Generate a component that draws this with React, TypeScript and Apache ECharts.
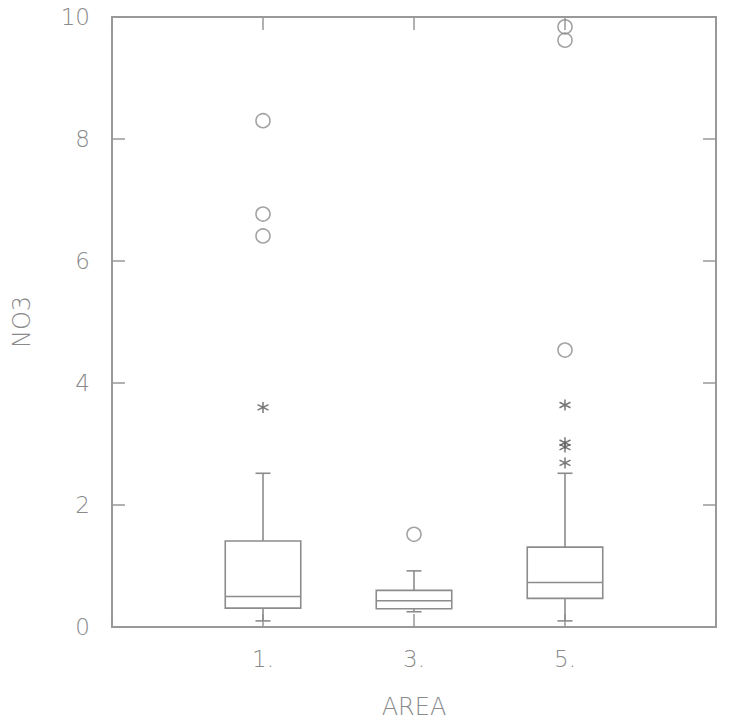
import React, { useEffect, useRef } from "react";
import * as echarts from "echarts";

// Sampling areas along the x axis
const categories = ["1.", "3.", "5."];

// Box statistics per area (NO3)
const lowWhisker = [0.1, 0.25, 0.1];
const q1 = [0.31, 0.3, 0.47];
const median = [0.5, 0.43, 0.73];
const q3 = [1.41, 0.6, 1.31];
const highWhisker = [2.52, 0.92, 2.52];

// Outliers: [area index, value]
const farOutliers: [number, number][] = [
  [0, 8.3],
  [0, 6.77],
  [0, 6.41],
  [1, 1.52],
  [2, 9.84],
  [2, 9.62],
  [2, 4.54],
];
const nearOutliers: [number, number][] = [
  [0, 3.6],
  [2, 3.64],
  [2, 3.02],
  [2, 2.95],
  [2, 2.69],
];

const yTicks = [0, 2, 4, 6, 8, 10];

const TEXT = "#8a8a8a";
const FRAME = "#999999";
const LINE = "#8c8c8c";
const FONT = "'DejaVu Sans', sans-serif";

const axisLine = () => ({ show: true, onZero: false, lineStyle: { color: FRAME, width: 2 } });
const tick = () => ({ show: true, inside: true, length: 13, lineStyle: { color: FRAME, width: 1.5 } });

export default function App() {
  const ref = useRef<HTMLDivElement>(null);

  useEffect(() => {
    if (!ref.current) return;
    const chart = echarts.init(ref.current, null, { renderer: "svg" });

    const boxData = categories.map((_, i) => [
      i + 1,
      lowWhisker[i],
      q1[i],
      median[i],
      q3[i],
      highWhisker[i],
    ]);

    chart.setOption({
      animation: false,
      backgroundColor: "#ffffff",
      grid: { left: 112, right: 35, top: 17, bottom: 100 },
      xAxis: [
        {
          type: "value",
          position: "bottom",
          min: 0,
          max: 4,
          interval: 1,
          name: "AREA",
          nameLocation: "middle",
          nameGap: 68,
          nameTextStyle: { color: TEXT, fontSize: 24, fontFamily: FONT, fontWeight: 200 },
          axisLine: axisLine(),
          axisTick: tick(),
          splitLine: { show: false },
          axisLabel: {
            color: TEXT,
            fontSize: 23,
            fontFamily: FONT,
            fontWeight: 200,
            margin: 20,
            formatter: (v: number) => categories[v - 1] ?? "",
          },
        },
        {
          type: "value",
          position: "top",
          min: 0,
          max: 4,
          interval: 1,
          axisLine: axisLine(),
          axisTick: tick(),
          splitLine: { show: false },
          axisLabel: { show: false },
        },
      ],
      yAxis: [
        {
          type: "value",
          position: "left",
          min: yTicks[0],
          max: yTicks[yTicks.length - 1],
          interval: 2,
          name: "NO3",
          nameLocation: "middle",
          nameGap: 78,
          nameTextStyle: { color: TEXT, fontSize: 24, fontFamily: FONT, fontWeight: 200 },
          axisLine: axisLine(),
          axisTick: tick(),
          splitLine: { show: false },
          axisLabel: {
            color: TEXT,
            fontSize: 23,
            fontFamily: FONT,
            fontWeight: 200,
            margin: 22,
          },
        },
        {
          type: "value",
          position: "right",
          min: yTicks[0],
          max: yTicks[yTicks.length - 1],
          interval: 2,
          axisLine: axisLine(),
          axisTick: tick(),
          splitLine: { show: false },
          axisLabel: { show: false },
        },
      ],
      series: [
        {
          type: "custom",
          xAxisIndex: 0,
          yAxisIndex: 0,
          data: boxData,
          encode: { x: 0, y: [1, 2, 3, 4, 5] },
          renderItem: (_params: any, api: any) => {
            const x = api.value(0);
            const pLow = api.coord([x, api.value(1)]);
            const pQ1 = api.coord([x, api.value(2)]);
            const pMed = api.coord([x, api.value(3)]);
            const pQ3 = api.coord([x, api.value(4)]);
            const pHigh = api.coord([x, api.value(5)]);
            const half = api.size([0.25, 0])[0];
            const cap = 7.5;
            const cx = pMed[0];
            const style = { stroke: LINE, lineWidth: 1.6, fill: "none" };
            return {
              type: "group",
              children: [
                {
                  type: "rect",
                  shape: { x: cx - half, y: pQ3[1], width: half * 2, height: pQ1[1] - pQ3[1] },
                  style,
                },
                {
                  type: "line",
                  shape: { x1: cx - half, y1: pMed[1], x2: cx + half, y2: pMed[1] },
                  style,
                },
                {
                  type: "line",
                  shape: { x1: cx, y1: pQ3[1], x2: cx, y2: pHigh[1] },
                  style,
                },
                {
                  type: "line",
                  shape: { x1: cx - cap, y1: pHigh[1], x2: cx + cap, y2: pHigh[1] },
                  style,
                },
                {
                  type: "line",
                  shape: { x1: cx, y1: pQ1[1], x2: cx, y2: pLow[1] },
                  style,
                },
                {
                  type: "line",
                  shape: { x1: cx - cap, y1: pLow[1], x2: cx + cap, y2: pLow[1] },
                  style,
                },
              ],
            };
          },
        },
        {
          type: "scatter",
          data: farOutliers.map(([i, v]) => [i + 1, v]),
          symbol: "circle",
          symbolSize: 14,
          itemStyle: { color: "rgba(0,0,0,0)", borderColor: LINE, borderWidth: 1.6 },
        },
        {
          type: "scatter",
          data: nearOutliers.map(([i, v]) => [i + 1, v]),
          symbol: "path://M0,-6L0,6M-5.2,-3L5.2,3M-5.2,3L5.2,-3",
          symbolSize: 11,
          itemStyle: { color: "rgba(0,0,0,0)", borderColor: "#555555", borderWidth: 1.5 },
        },
      ],
    });

    return () => chart.dispose();
  }, []);

  return (
    <div
      ref={ref}
      style={{ position: "fixed", left: 0, top: 0, width: 751, height: 727, background: "#fff" }}
    />
  );
}
